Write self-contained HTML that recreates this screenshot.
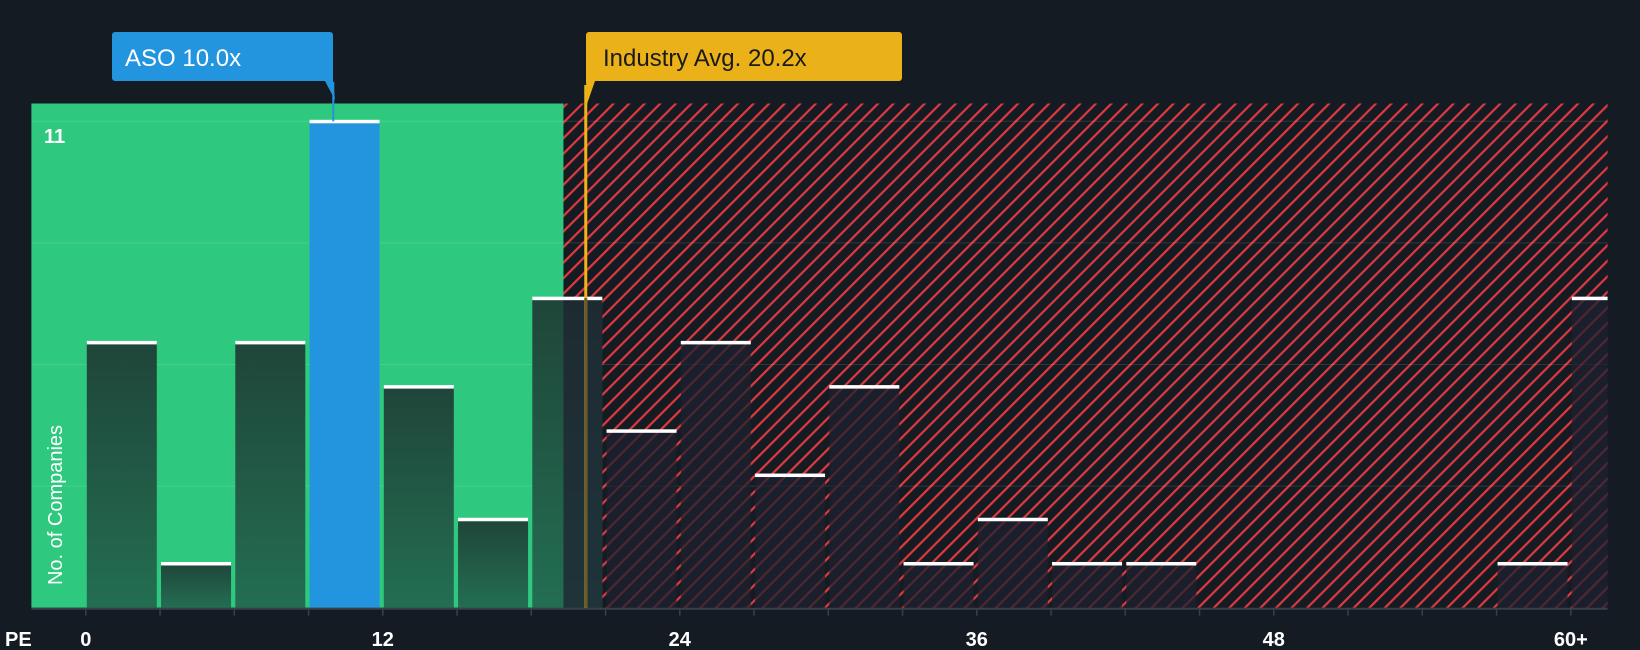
<!DOCTYPE html>
<html><head><meta charset="utf-8"><style>
body{margin:0;background:#151b23;}
svg{display:block;font-family:"Liberation Sans",Arial,sans-serif;}
</style></head><body>
<svg id="chart" width="1640" height="650" viewBox="0 0 1640 650">
<defs>
<pattern id="hatch" patternUnits="userSpaceOnUse" width="11" height="11" patternTransform="rotate(45)">
<rect width="11" height="11" fill="#151b23"/>
<rect x="0" y="0" width="2.2" height="11" fill="#e0393e"/>
</pattern>
<linearGradient id="gbar" x1="0" y1="0" x2="0" y2="1">
<stop offset="0" stop-color="#1f4539"/><stop offset="1" stop-color="#236e52"/>
</linearGradient>
</defs>
<rect width="1640" height="650" fill="#151b23"/>
<g id="plot"></g>
<g id="labels"></g>
</svg>
<script>
const binStarts = [0,3,6,9,12,15,18,21,24,27,30,33,36,39,42,45,48,51,54,57,60];
const counts = [6,1,6,11,5,2,7,4,6,3,5,1,2,1,1,0,0,0,0,1,7];
const xTicks = ["0","12","24","36","48","60+"];
const xTickVals = [0,12,24,36,48,60];
const companyPE = 10.0;
const industryAvg = 20.2;
const fairEdge = 19.3;
const yMax = 11;

const X0=85.8, PXU=24.75, BASE=607.7, TOP=103.5, PLOTL=31.4, PLOTR=1607.6;
const x = v => X0 + v*PXU;
const y = v => BASE - v*(BASE-121.3)/yMax;
const ns="http://www.w3.org/2000/svg";
const plot=document.getElementById('plot');
const lab=document.getElementById('labels');
function mk(tag,attrs,parent){const e=document.createElementNS(ns,tag);for(const k in attrs)e.setAttribute(k,attrs[k]);parent.appendChild(e);return e;}

const green=mk('rect',{x:PLOTL,y:TOP,width:x(fairEdge)-PLOTL,height:BASE-TOP,fill:'#2ec97f'},plot);


const red=mk('rect',{x:x(fairEdge),y:TOP,width:PLOTR-x(fairEdge),height:BASE-TOP,fill:'url(#hatch)'},plot);



for(let k=1;k<=4;k++){
  const gy=y(yMax*k/4);
  const gl=mk('line',{x1:PLOTL,x2:PLOTR,y1:gy,y2:gy,stroke:'rgba(255,255,255,0.12)','stroke-width':1},plot);
  
  
}

binStarts.forEach((b,i)=>{
  const c=counts[i]; if(c<=0) return;
  const bx=x(b)+1, bw=Math.min(70, PLOTR-bx);
  const isCo = companyPE>=b && companyPE<b+3;
  const inGreen = b < fairEdge;
  let fill = isCo ? '#2394de' : (inGreen ? 'url(#gbar)' : 'rgba(30,34,48,0.75)');
  const r=mk('rect',{x:bx,y:y(c),width:bw,height:BASE-y(c),fill:fill},plot);
  
  
  if(!isCo && inGreen && x(b)+71>x(fairEdge)){
    mk('rect',{x:x(fairEdge),y:y(c),width:bx+bw-x(fairEdge),height:BASE-y(c),fill:'rgba(30,34,48,0.75)'},plot);
  }
  const cap=mk('rect',{x:bx,y:y(c)-1.5,width:bw,height:3.5,fill:'#ffffff'},plot);
  
  
});

const axis=mk('line',{x1:PLOTL,x2:PLOTR,y1:BASE+1,y2:BASE+1,stroke:'#3a4049','stroke-width':2},plot);


for(let i=0;i<=21;i++){
  const t=mk('line',{x1:x(i*3),x2:x(i*3),y1:BASE+1,y2:BASE+8,stroke:'#3a4049','stroke-width':1.5},plot);
  
  
}
xTicks.forEach((t,i)=>{
  const e=mk('text',{x:x(xTickVals[i]),y:646,'text-anchor':'middle',fill:'#ffffff','font-size':20,'font-weight':'bold'},lab);
  e.textContent=t;
  
  
});

const il=mk('line',{x1:x(industryAvg),x2:x(industryAvg),y1:85,y2:BASE,stroke:'#f0b31a','stroke-width':3},plot);


mk('rect',{x:x(industryAvg)-1.5,y:y(7),width:3,height:BASE-y(7),fill:'#6b5a2a'},plot);
const cl=mk('line',{x1:x(companyPE),x2:x(companyPE),y1:82,y2:y(11),stroke:'#2394de','stroke-width':2},plot);


</script>
<svg style="position:absolute;left:0;top:0" width="1640" height="650">
<g>
<path d="M115 32 H330 a3 3 0 0 1 3 3 V81 H333 L335 100 L325 81 H115 a3 3 0 0 1 -3 -3 V35 a3 3 0 0 1 3 -3z" fill="#2394de"/>
<text x="125" y="66" fill="#fff" font-size="24" font-family="Liberation Sans, sans-serif">ASO 10.0x</text>
</g>
<g>
<path d="M589 32 H899 a3 3 0 0 1 3 3 V78 a3 3 0 0 1 -3 3 H595 L587 104 L586 81 V35 a3 3 0 0 1 3 -3z" fill="#eab119"/>
<text x="603" y="66" fill="#1a1a1a" font-size="24" font-family="Liberation Sans, sans-serif">Industry Avg. 20.2x</text>
</g>
<text x="44" y="143" fill="#fff" font-size="20" font-weight="bold" font-family="Liberation Sans, sans-serif">11</text>
<text transform="translate(62,505) rotate(-90)" text-anchor="middle" fill="#fff" font-size="20" font-family="Liberation Sans, sans-serif">No. of Companies</text>
<text x="5" y="646" fill="#fff" font-size="20" font-weight="bold" font-family="Liberation Sans, sans-serif">PE</text>
</svg>
</body></html>
